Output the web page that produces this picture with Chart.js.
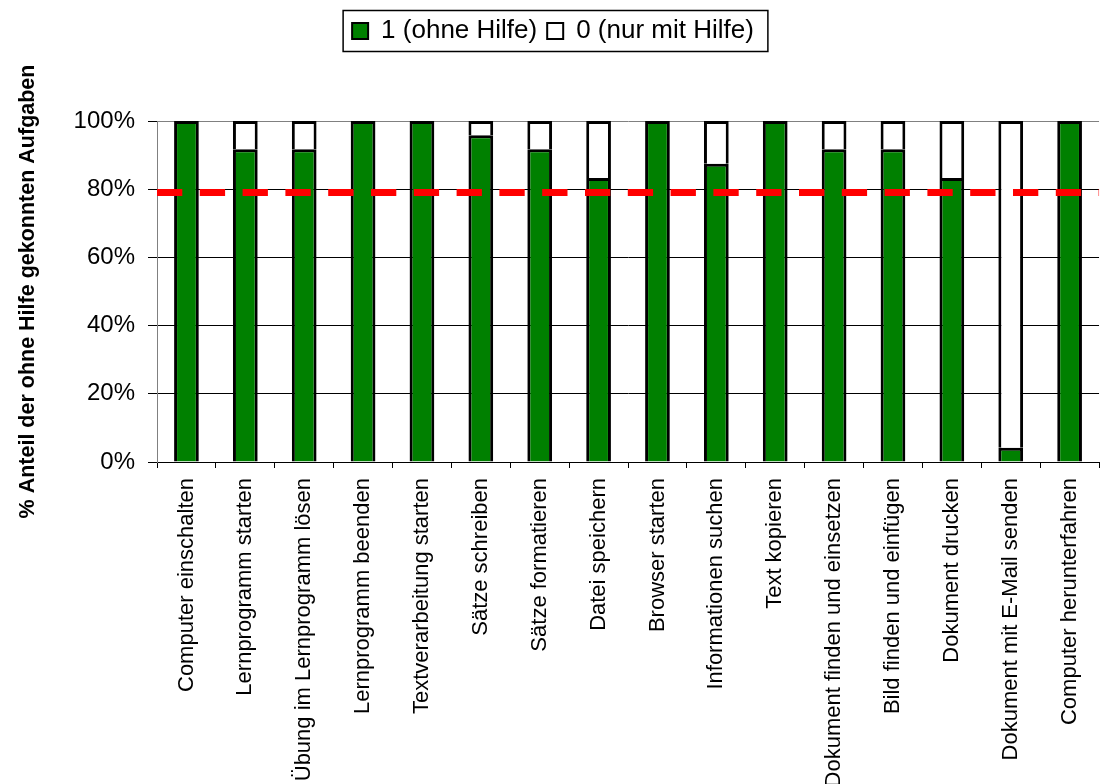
<!DOCTYPE html>
<html lang="de">
<head>
<meta charset="utf-8">
<title>Aufgaben ohne Hilfe</title>
<script src="https://cdn.jsdelivr.net/npm/chart.js@4"></script>
<style>
  html, body { margin: 0; padding: 0; background: #fff; }
  #wrap { width: 1106px; height: 784px; }
</style>
</head>
<body>
<div id="wrap"><canvas id="aufgaben"></canvas></div>
<script>
// Aufgaben (x-Achse)
const aufgaben = [
  'Computer einschalten',
  'Lernprogramm starten',
  'Übung im Lernprogramm lösen',
  'Lernprogramm beenden',
  'Textverarbeitung starten',
  'Sätze schreiben',
  'Sätze formatieren',
  'Datei speichern',
  'Browser starten',
  'Informationen suchen',
  'Text kopieren',
  'Dokument finden und einsetzen',
  'Bild finden und einfügen',
  'Dokument drucken',
  'Dokument mit E-Mail senden',
  'Computer herunterfahren'
];

// Anteile in Prozent
const ohneHilfe = [100, 91.7, 91.7, 100, 100, 95.8, 91.7, 83.3, 100, 87.5, 100, 91.7, 91.7, 83.3, 4.2, 100];
const nurMitHilfe = [0, 8.3, 8.3, 0, 0, 4.2, 8.3, 16.7, 0, 12.5, 0, 8.3, 8.3, 16.7, 95.8, 0];

// y-Achse
const yTicks = [0, 20, 40, 60, 80, 100];
const schwelle = [79];

Chart.defaults.font.family = 'Arial, "Liberation Sans", Helvetica, sans-serif';
Chart.defaults.color = '#000';

// rote gestrichelte Linie ueber den Balken
const schwellenLinie = {
  id: 'schwellenLinie',
  afterDatasetsDraw(chart) {
    const { ctx, chartArea, scales } = chart;
    const y = scales.y.getPixelForValue(schwelle[0]);
    ctx.save();
    ctx.strokeStyle = '#ff0000';
    ctx.lineWidth = 7;
    ctx.setLineDash([25.3, 17.5]);
    ctx.beginPath();
    ctx.moveTo(chartArea.left, y);
    ctx.lineTo(chartArea.right, y);
    ctx.stroke();
    ctx.restore();
  }
};

// Rahmen um die Legende
const legendenRahmen = {
  id: 'legendenRahmen',
  afterDraw(chart) {
    const boxes = chart.legend.legendHitBoxes;
    if (!boxes || !boxes.length) return;
    const first = boxes[0];
    const last = boxes[boxes.length - 1];
    const mitte = first.top + first.height / 2;
    const ctx = chart.ctx;
    ctx.save();
    ctx.strokeStyle = '#000';
    ctx.lineWidth = 1.5;
    ctx.strokeRect(first.left - 9, mitte - 20.5, last.left + last.width + 14 - (first.left - 9), 41);
    ctx.restore();
  }
};

const chart = new Chart(document.getElementById('aufgaben'), {
  type: 'bar',
  data: {
    labels: aufgaben,
    datasets: [{
      label: '1 (ohne Hilfe)',
      data: ohneHilfe,
      backgroundColor: '#008000',
      borderColor: '#000',
      borderWidth: 3,
      barPercentage: 0.42,
      categoryPercentage: 1
    }, {
      label: '0 (nur mit Hilfe)',
      data: nurMitHilfe,
      backgroundColor: '#ffffff',
      borderColor: '#000',
      borderWidth: 3,
      barPercentage: 0.42,
      categoryPercentage: 1
    }]
  },
  options: {
    responsive: true,
    maintainAspectRatio: false,
    animation: false,
    layout: { padding: { top: 8, left: 0, right: 0, bottom: 0 } },
    scales: {
      x: {
        stacked: true,
        afterFit(scale) { scale.height = 322; },
        grid: {
          drawOnChartArea: false,
          tickLength: 6,
          color: '#000',
          offset: true
        },
        border: { color: '#000', width: 1 },
        ticks: {
          autoSkip: false,
          minRotation: 90,
          maxRotation: 90,
          padding: 10,
          color: '#000',
          font: { size: 22 }
        }
      },
      y: {
        stacked: true,
        min: 0,
        max: 100,
        afterFit(scale) { scale.width = 157; },
        afterBuildTicks(scale) {
          scale.ticks = yTicks.map(v => ({ value: v }));
        },
        grid: {
          color: c => (c.tick && c.tick.value === 100) ? '#808080' : '#000',
          tickColor: '#000',
          tickLength: 9,
          lineWidth: 1
        },
        border: { color: '#808080', width: 1 },
        ticks: {
          padding: 13,
          color: '#000',
          font: { size: 24 },
          callback: v => v + '%'
        },
        title: {
          display: true,
          text: '% Anteil der ohne Hilfe gekonnten Aufgaben',
          color: '#000',
          font: { size: 21.5, weight: 'bold' },
          padding: { top: 15, bottom: 0 }
        }
      }
    },
    plugins: {
      tooltip: { enabled: false },
      legend: {
        display: true,
        position: 'top',
        labels: {
          color: '#000',
          boxWidth: 16,
          boxHeight: 16,
          padding: 10,
          font: { size: 26 },
          generateLabels(c) {
            const items = Chart.defaults.plugins.legend.labels.generateLabels(c);
            items.forEach(i => { i.lineWidth = 2; });
            return items;
          }
        }
      }
    }
  },
  plugins: [schwellenLinie, legendenRahmen]
});

// Platz zwischen Legende und Diagramm
const legendFit = chart.legend.fit;
chart.legend.fit = function () {
  legendFit.call(this);
  this.height = 113;
};
chart.update();
</script>
</body>
</html>
